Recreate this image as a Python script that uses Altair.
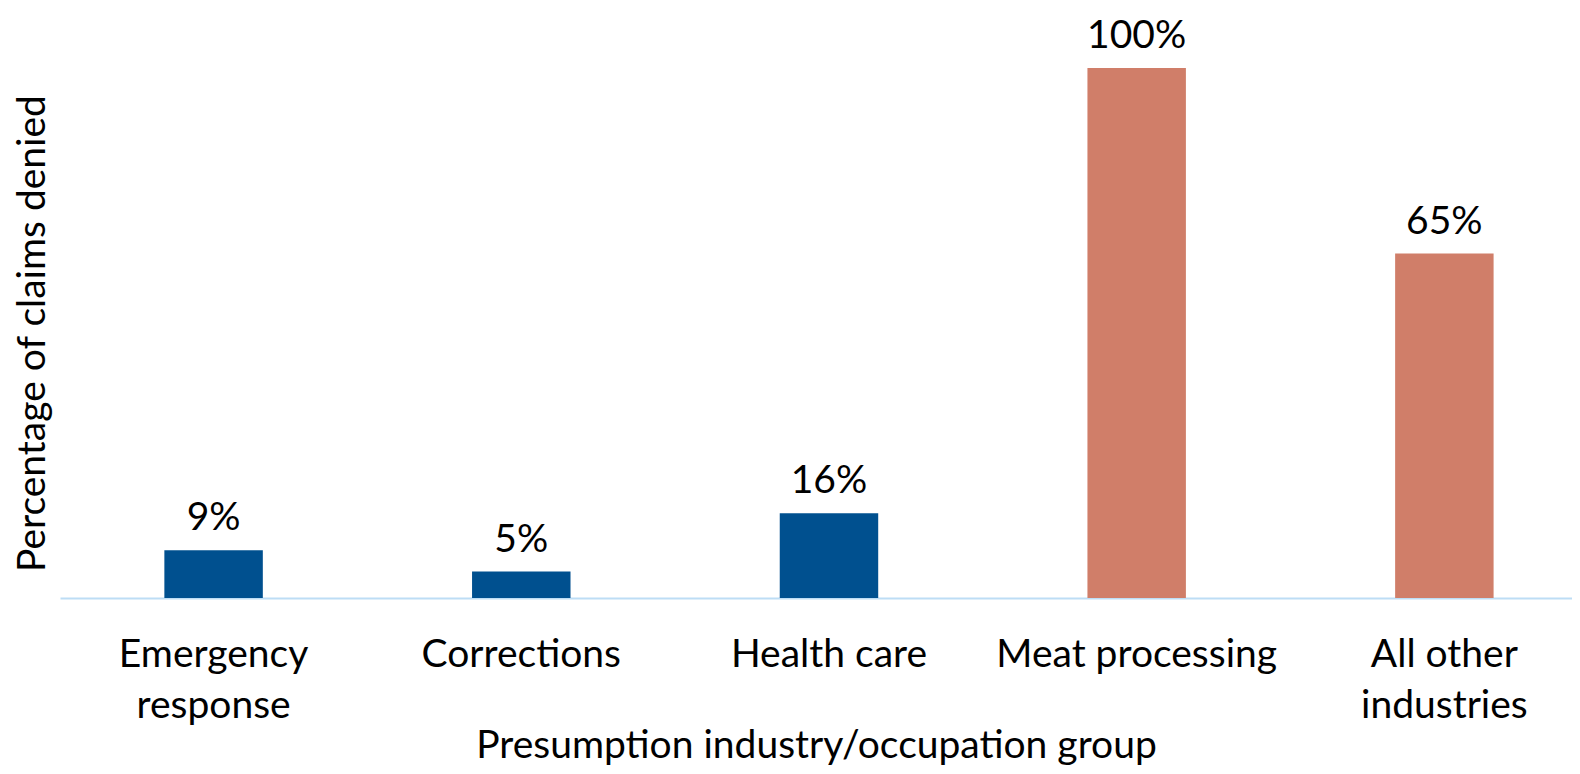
import altair as alt
import pandas as pd

categories = ["Emergency response", "Corrections", "Health care", "Meat processing", "All other industries"]
values = [9, 5, 16, 100, 65]
groups = ["presumption", "presumption", "presumption", "other", "other"]

df = pd.DataFrame({"category": categories, "value": values, "group": groups})
df["label"] = df["value"].astype(str) + "%"

FONT = "Lato"
FS = 39

x = alt.X(
    "category:N",
    sort=categories,
    scale=alt.Scale(paddingInner=0.68, paddingOuter=0.297, align=0.571),
    axis=alt.Axis(
        title="Presumption industry/occupation group",
        labelAngle=0,
        labelFontSize=FS,
        labelFont=FONT,
        labelColor="#000000",
        labelPadding=37,
        labelLineHeight=51,
        labelBaseline="top",
        labelLimit=0,
        labelExpr="datum.value == 'Emergency response' ? ['Emergency', 'response'] : datum.value == 'All other industries' ? ['All other', 'industries'] : datum.value",
        ticks=False,
        domainColor="#BDDDF5",
        domainWidth=2,
        titleFontSize=FS,
        titleFont=FONT,
        titleFontWeight="normal",
        titleColor="#000000",
        titleBaseline="middle",
        titleY=147,
    ),
)

y = alt.Y(
    "value:Q",
    scale=alt.Scale(domain=[0, 100], nice=False),
    axis=alt.Axis(
        title="Percentage of claims denied",
        labels=False,
        ticks=False,
        domain=False,
        grid=False,
        titleFontSize=FS,
        titleFont=FONT,
        titleFontWeight="normal",
        titleColor="#000000",
        titlePadding=8,
    ),
)

color = alt.Color(
    "group:N",
    scale=alt.Scale(domain=["presumption", "other"], range=["#00508F", "#D07E69"]),
    legend=None,
)

bars = alt.Chart(df).mark_bar().encode(x=x, y=y, color=color)

text = alt.Chart(df).mark_text(
    baseline="alphabetic", dy=-20, fontSize=FS, font=FONT, color="#000000"
).encode(
    x=alt.X("category:N", sort=categories),
    y="value:Q",
    text="label:N",
)

chart = (
    alt.layer(bars, text)
    .properties(
        width=1512,
        height=530,
        background="#FFFFFF",
        autosize=alt.AutoSizeParams(type="none"),
        padding={"left": 52, "top": 60, "right": 0, "bottom": 168},
    )
    .configure_view(strokeWidth=0, stroke=None)
)

chart.save("out.html", embed_options={"renderer": "svg", "actions": False})
